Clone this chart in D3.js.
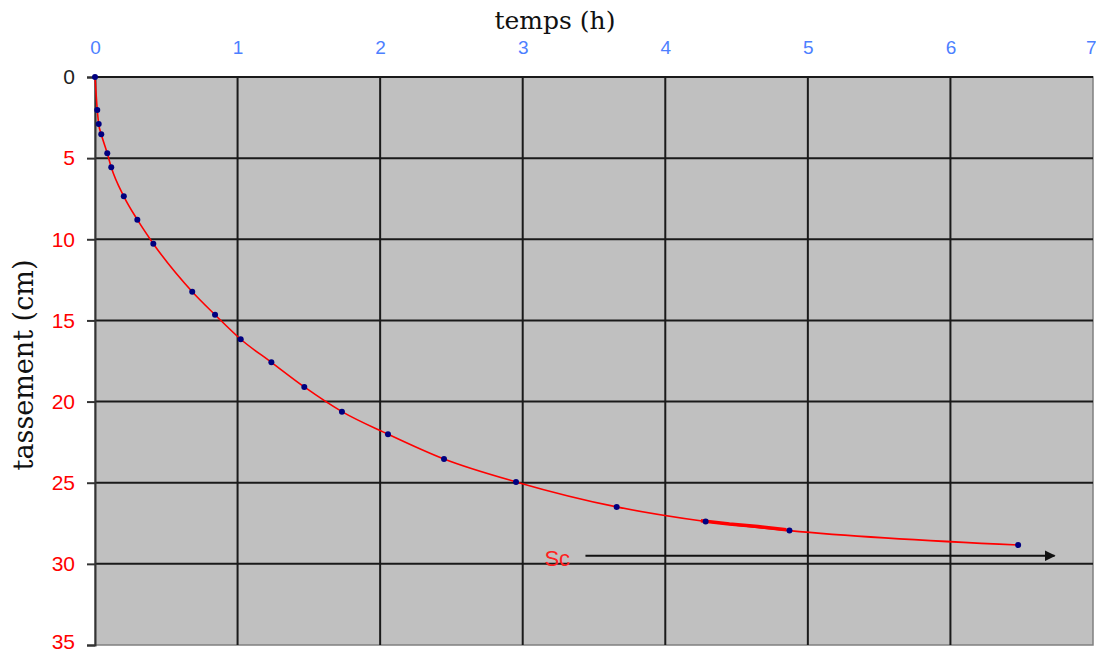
<!DOCTYPE html>
<html>
<head>
<meta charset="utf-8">
<script src="https://cdn.jsdelivr.net/npm/d3@7"></script>
<style>
  html, body { margin: 0; padding: 0; background: #fff; }
  svg { display: block; }
</style>
</head>
<body>
<div id="chart"></div>
<script>
// temps (h) / tassement (cm)
const timeH = [0, 0.016, 0.026, 0.044, 0.086, 0.114, 0.202, 0.297, 0.409, 0.682, 0.842,
    1.022, 1.237, 1.468, 1.732, 2.055, 2.448, 2.953, 3.659, 4.283, 4.871, 6.475];
const settlementCm = [0, 2.03, 2.90, 3.53, 4.70, 5.56, 7.35, 8.79, 10.27, 13.23, 14.65,
    16.16, 17.58, 19.10, 20.62, 22.01, 23.54, 24.95, 26.49, 27.39, 27.95, 28.84];

// scribbled red stroke between the 4.3 h and 4.9 h points
const scribbleT = [4.25, 4.45, 4.65, 4.85];
const scribbleS = [27.35, 27.55, 27.7, 27.9];

const xTicks = [0, 1, 2, 3, 4, 5, 6, 7];
const yTicks = [0, 5, 10, 15, 20, 25, 30, 35];

// final settlement annotation
const scLabel = 'Sc';
const scArrowT = [3.44, 6.73];
const scArrowS = 29.5;

const W = 1096, H = 654;
const margin = { top: 77, right: 3, bottom: 9, left: 95 };
const width = W - margin.left - margin.right;
const height = H - margin.top - margin.bottom;

const svg = d3.select('#chart').append('svg')
    .attr('width', W)
    .attr('height', H);

svg.append('defs').append('marker')
    .attr('id', 'arrow')
    .attr('viewBox', '0 0 10 10')
    .attr('refX', 9).attr('refY', 5)
    .attr('markerWidth', 11).attr('markerHeight', 11)
    .attr('markerUnits', 'userSpaceOnUse')
    .attr('orient', 'auto')
    .append('path')
    .attr('d', 'M0,0 L10,5 L0,10 Z')
    .attr('fill', '#111');

const g = svg.append('g')
    .attr('transform', `translate(${margin.left},${margin.top})`);

const x = d3.scaleLinear().domain([0, 7]).range([0, width]);
const y = d3.scaleLinear().domain([0, 35]).range([0, height]);

// plot background
g.append('rect')
    .attr('width', width)
    .attr('height', height)
    .attr('fill', '#c0c0c0')
    .attr('stroke', '#808080')
    .attr('stroke-width', 1.5);

// grid
g.append('g')
    .selectAll('line')
    .data(xTicks.filter(d => d > 0 && d < 7))
    .join('line')
    .attr('x1', d => x(d)).attr('x2', d => x(d))
    .attr('y1', 0).attr('y2', height)
    .attr('stroke', '#1a1a1a')
    .attr('stroke-width', 2);

g.append('g')
    .selectAll('line')
    .data(yTicks.filter(d => d < 35))
    .join('line')
    .attr('x1', 0).attr('x2', width)
    .attr('y1', d => y(d)).attr('y2', d => y(d))
    .attr('stroke', '#1a1a1a')
    .attr('stroke-width', 2);

// y axis (left, with outside ticks)
const yAxis = g.append('g')
    .call(d3.axisLeft(y).tickValues(yTicks).tickFormat(d3.format('d')).tickSize(8).tickPadding(12));
yAxis.select('.domain').attr('stroke', '#333').attr('stroke-width', 2);
yAxis.selectAll('.tick line').attr('stroke', '#333').attr('stroke-width', 2);
yAxis.selectAll('.tick text')
    .attr('font-family', 'Liberation Sans, Arial, sans-serif')
    .attr('font-size', 21)
    .attr('fill', d => d === 0 ? '#222' : '#ff0000')
    .attr('dy', d => d === 35 ? '0.15em' : '0.32em');

// x axis (top, labels only)
const xAxis = g.append('g')
    .call(d3.axisTop(x).tickValues(xTicks).tickFormat(d3.format('d')).tickSize(0).tickPadding(23));
xAxis.select('.domain').remove();
xAxis.selectAll('.tick text')
    .attr('font-family', 'Liberation Sans, Arial, sans-serif')
    .attr('font-size', 19)
    .attr('fill', '#4d7fff')
    .attr('text-anchor', d => d === 7 ? 'end' : 'middle')
    .attr('dx', d => d === 7 ? 3 : 0);

// axis titles
svg.append('text')
    .attr('x', 555)
    .attr('y', 29)
    .attr('text-anchor', 'middle')
    .attr('font-family', 'DejaVu Serif, serif')
    .attr('font-size', 25)
    .attr('fill', '#111')
    .text('temps (h)');

svg.append('text')
    .attr('transform', `translate(33,365) rotate(-90)`)
    .attr('text-anchor', 'middle')
    .attr('font-family', 'DejaVu Serif, serif')
    .attr('font-size', 27)
    .attr('fill', '#111')
    .text('tassement (cm)');

// curve
const points = timeH.map((t, i) => [t, settlementCm[i]]);

const line = d3.line()
    .x(d => x(d[0]))
    .y(d => y(d[1]))
    .curve(d3.curveMonotoneX);

g.append('path')
    .datum(points)
    .attr('fill', 'none')
    .attr('stroke', '#ff0000')
    .attr('stroke-width', 1.6)
    .attr('d', line);

g.append('path')
    .datum(scribbleT.map((t, i) => [t, scribbleS[i]]))
    .attr('fill', 'none')
    .attr('stroke', '#ff0000')
    .attr('stroke-width', 3.5)
    .attr('d', d3.line().x(d => x(d[0])).y(d => y(d[1])));

g.append('g')
    .selectAll('circle')
    .data(points)
    .join('circle')
    .attr('cx', d => x(d[0]))
    .attr('cy', d => y(d[1]))
    .attr('r', 3)
    .attr('fill', '#000080');

// Sc annotation
g.append('line')
    .attr('x1', x(scArrowT[0])).attr('x2', x(scArrowT[1]))
    .attr('y1', y(scArrowS)).attr('y2', y(scArrowS))
    .attr('stroke', '#111')
    .attr('stroke-width', 2)
    .attr('marker-end', 'url(#arrow)');

g.append('text')
    .attr('x', x(scArrowT[0]) - 41)
    .attr('y', y(scArrowS) + 10)
    .attr('font-family', 'Liberation Sans, Arial, sans-serif')
    .attr('font-size', 22)
    .attr('fill', '#ff2020')
    .text(scLabel);
</script>
</body>
</html>
